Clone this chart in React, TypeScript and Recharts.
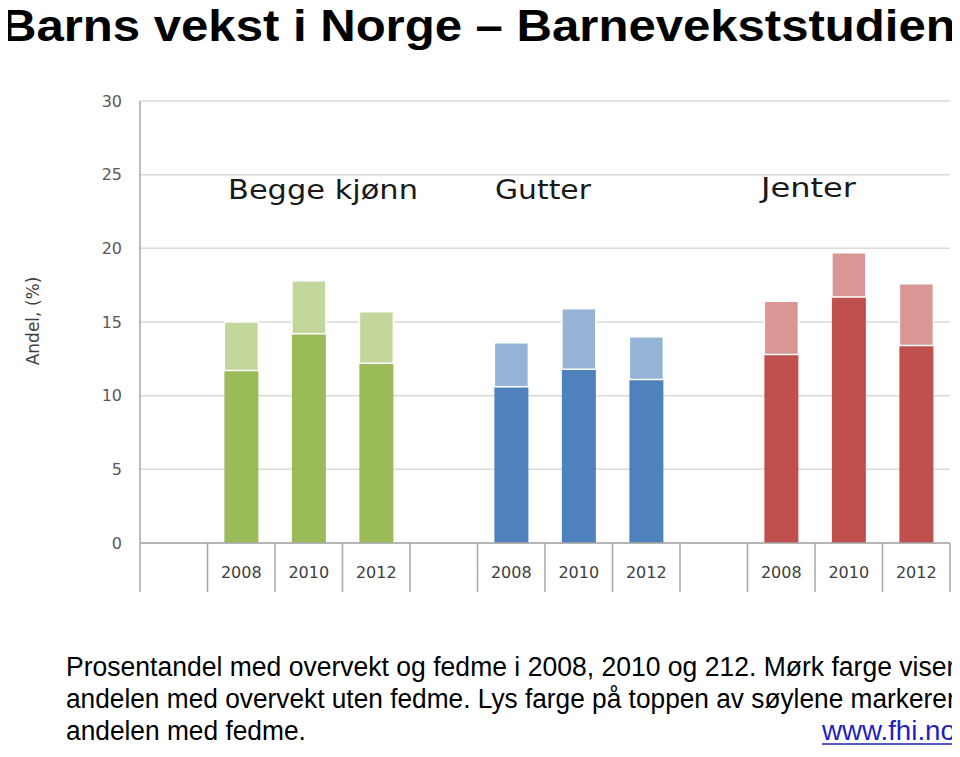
import React, { useLayoutEffect, useRef, useState } from 'react';
import { BarChart, Bar, XAxis, YAxis, CartesianGrid, Cell } from 'recharts';

const groups = ['Begge kjønn', 'Gutter', 'Jenter'];
const years = ['2008', '2010', '2012'];
const yTicks = [0, 5, 10, 15, 20, 25, 30];

// mørk farge: overvekt uten fedme
const beggeOvervekt = [11.7, 14.2, 12.2];
const gutterOvervekt = [10.6, 11.8, 11.1];
const jenterOvervekt = [12.8, 16.7, 13.4];

// lys farge: fedme (på toppen)
const beggeFedme = [3.3, 3.6, 3.5];
const gutterFedme = [3.0, 4.1, 2.9];
const jenterFedme = [3.6, 3.0, 4.2];

const darkColors = ['#9bbb59', '#4f81bd', '#c0504d'];
const lightColors = ['#c3d69b', '#95b3d7', '#d99694'];

const overvektByGroup = [beggeOvervekt, gutterOvervekt, jenterOvervekt];
const fedmeByGroup = [beggeFedme, gutterFedme, jenterFedme];

// one empty slot before each group, then the three years
const data: any[] = [];
groups.forEach((g, gi) => {
  data.push({ key: `gap-${gi}`, year: '', group: gi });
  years.forEach((y, yi) => {
    data.push({
      key: `${g}-${y}`,
      year: y,
      group: gi,
      overvekt: overvektByGroup[gi][yi],
      fedme: fedmeByGroup[gi][yi],
    });
  });
});

const CHART_W = 960;
const CHART_H = 757;
const MARGIN = { top: 101, right: 10, left: 80, bottom: 164 };
const Y_AXIS_W = 60;
const BAND = (CHART_W - MARGIN.left - Y_AXIS_W - MARGIN.right) / data.length;
const GRAY = '#a6a6a6';
const SANS = "'Liberation Sans', Arial, sans-serif";

// text squeezed/stretched horizontally to a given width
const FitText = ({ x, y, width, children, ...rest }: any) => {
  const ref = useRef<SVGTextElement>(null);
  const [sx, setSx] = useState(1);
  useLayoutEffect(() => {
    if (ref.current) {
      const len = ref.current.getComputedTextLength();
      if (len > 0) setSx(width / len);
    }
  }, [width, children]);
  return (
    <text ref={ref} transform={`translate(${x},${y}) scale(${sx},1)`} {...rest}>
      {children}
    </text>
  );
};

const YearTick = ({ x, y, index }: any) => {
  const label = data[index]?.year ?? '';
  const last = index === data.length - 1;
  return (
    <g>
      <line x1={x - BAND / 2} x2={x - BAND / 2} y1={y} y2={y + 49} stroke={GRAY} strokeWidth={1.5} />
      {last && <line x1={x + BAND / 2} x2={x + BAND / 2} y1={y} y2={y + 49} stroke={GRAY} strokeWidth={1.5} />}
      <text x={x} y={y + 35} textAnchor="middle" fontSize={16} fill="#404040" fontFamily="DejaVu Sans">
        {label}
      </text>
    </g>
  );
};

export default function App() {
  return (
    <div style={{ position: 'relative', width: CHART_W, height: CHART_H, margin: '-8px 0 0 -8px', background: '#fff' }}>
      <BarChart width={CHART_W} height={CHART_H} data={data} margin={MARGIN} barCategoryGap="25%">
        <CartesianGrid vertical={false} stroke="#d9d9d9" strokeWidth={1.5} />
        <XAxis
          dataKey="key"
          height={50}
          interval={0}
          tickLine={false}
          tickSize={0}
          tickMargin={0}
          axisLine={{ stroke: GRAY, strokeWidth: 1.5 }}
          tick={<YearTick />}
        />
        <YAxis
          width={Y_AXIS_W}
          domain={[0, 30]}
          ticks={yTicks}
          interval={0}
          tickLine={false}
          tickSize={0}
          tickMargin={18}
          axisLine={{ stroke: GRAY, strokeWidth: 1.5 }}
          tick={{ fontSize: 16, fill: '#595959', fontFamily: 'DejaVu Sans' }}
        />
        <Bar dataKey="overvekt" stackId="a" isAnimationActive={false}>
          {data.map((d) => (
            <Cell key={d.key} fill={darkColors[d.group]} />
          ))}
        </Bar>
        <Bar dataKey="fedme" stackId="a" isAnimationActive={false} stroke="#ffffff" strokeWidth={1.5}>
          {data.map((d) => (
            <Cell key={d.key} fill={lightColors[d.group]} />
          ))}
        </Bar>
      </BarChart>
      <svg width={CHART_W} height={CHART_H} style={{ position: 'absolute', left: 0, top: 0, pointerEvents: 'none' }}>
        <FitText x={1} y={41} width={955} fontSize={45} fontWeight="bold" fill="#000" fontFamily={SANS}>
          Barns vekst i Norge – Barnevekststudien
        </FitText>
        <FitText x={228} y={199} width={190} fontSize={27} fill="#1a1a1a" fontFamily="DejaVu Sans">
          {groups[0]}
        </FitText>
        <FitText x={495} y={199} width={96} fontSize={27} fill="#1a1a1a" fontFamily="DejaVu Sans">
          {groups[1]}
        </FitText>
        <FitText x={761} y={197} width={95} fontSize={27} fill="#1a1a1a" fontFamily="DejaVu Sans">
          {groups[2]}
        </FitText>
        <text transform="translate(39,321) rotate(-90)" textAnchor="middle" fontSize={17} fill="#404040" fontFamily="DejaVu Sans">
          Andel, (%)
        </text>
        <g fontFamily={SANS} fontSize={28} fill="#000">
          <FitText x={66} y={676} width={890}>
            Prosentandel med overvekt og fedme i 2008, 2010 og 212.  Mørk farge viser
          </FitText>
          <FitText x={66} y={708} width={890}>
            andelen med overvekt uten fedme. Lys farge på toppen av søylene markerer
          </FitText>
          <FitText x={66} y={740} width={240}>
            andelen med fedme.
          </FitText>
          <FitText x={822} y={740} width={134} fill="#1f1fc0">
            www.fhi.no
          </FitText>
          <line x1={822} x2={956} y1={744} y2={744} stroke="#1f1fc0" strokeWidth={1.5} />
        </g>
      </svg>
    </div>
  );
}
